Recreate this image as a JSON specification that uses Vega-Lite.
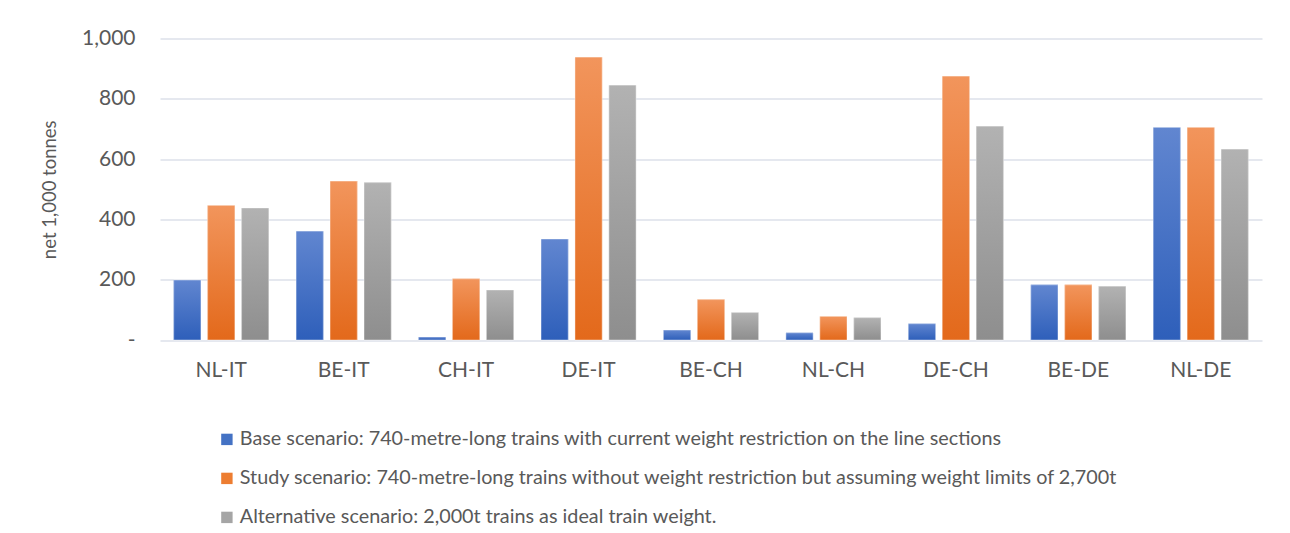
{
  "$schema": "https://vega.github.io/schema/vega-lite/v6.json",
  "width": 1102,
  "height": 301.5,
  "autosize": {"type": "none"},
  "padding": {"left": 160, "top": 38.5, "right": 28, "bottom": 193},
  "background": "white",
  "config": {
    "view": {"stroke": null},
    "font": "Lato",
    "axis": {"labelColor": "#595959", "titleColor": "#595959", "labelFont": "Lato", "titleFont": "Lato"},
    "legend": {"labelColor": "#595959", "labelFont": "Lato"}
  },
  "data": {
    "values": [
      {"route": "NL-IT", "scenario": "Base scenario: 740-metre-long trains with current weight restriction on the line sections", "value": 199},
      {"route": "NL-IT", "scenario": "Study scenario: 740-metre-long trains without weight restriction but assuming weight limits of 2,700t", "value": 446},
      {"route": "NL-IT", "scenario": "Alternative scenario: 2,000t trains as ideal train weight.", "value": 438},
      {"route": "BE-IT", "scenario": "Base scenario: 740-metre-long trains with current weight restriction on the line sections", "value": 361},
      {"route": "BE-IT", "scenario": "Study scenario: 740-metre-long trains without weight restriction but assuming weight limits of 2,700t", "value": 527},
      {"route": "BE-IT", "scenario": "Alternative scenario: 2,000t trains as ideal train weight.", "value": 522},
      {"route": "CH-IT", "scenario": "Base scenario: 740-metre-long trains with current weight restriction on the line sections", "value": 10},
      {"route": "CH-IT", "scenario": "Study scenario: 740-metre-long trains without weight restriction but assuming weight limits of 2,700t", "value": 203},
      {"route": "CH-IT", "scenario": "Alternative scenario: 2,000t trains as ideal train weight.", "value": 166},
      {"route": "DE-IT", "scenario": "Base scenario: 740-metre-long trains with current weight restriction on the line sections", "value": 335},
      {"route": "DE-IT", "scenario": "Study scenario: 740-metre-long trains without weight restriction but assuming weight limits of 2,700t", "value": 938},
      {"route": "DE-IT", "scenario": "Alternative scenario: 2,000t trains as ideal train weight.", "value": 845},
      {"route": "BE-CH", "scenario": "Base scenario: 740-metre-long trains with current weight restriction on the line sections", "value": 33},
      {"route": "BE-CH", "scenario": "Study scenario: 740-metre-long trains without weight restriction but assuming weight limits of 2,700t", "value": 134},
      {"route": "BE-CH", "scenario": "Alternative scenario: 2,000t trains as ideal train weight.", "value": 91},
      {"route": "NL-CH", "scenario": "Base scenario: 740-metre-long trains with current weight restriction on the line sections", "value": 24},
      {"route": "NL-CH", "scenario": "Study scenario: 740-metre-long trains without weight restriction but assuming weight limits of 2,700t", "value": 78},
      {"route": "NL-CH", "scenario": "Alternative scenario: 2,000t trains as ideal train weight.", "value": 74},
      {"route": "DE-CH", "scenario": "Base scenario: 740-metre-long trains with current weight restriction on the line sections", "value": 54},
      {"route": "DE-CH", "scenario": "Study scenario: 740-metre-long trains without weight restriction but assuming weight limits of 2,700t", "value": 875},
      {"route": "DE-CH", "scenario": "Alternative scenario: 2,000t trains as ideal train weight.", "value": 709},
      {"route": "BE-DE", "scenario": "Base scenario: 740-metre-long trains with current weight restriction on the line sections", "value": 183},
      {"route": "BE-DE", "scenario": "Study scenario: 740-metre-long trains without weight restriction but assuming weight limits of 2,700t", "value": 183},
      {"route": "BE-DE", "scenario": "Alternative scenario: 2,000t trains as ideal train weight.", "value": 178},
      {"route": "NL-DE", "scenario": "Base scenario: 740-metre-long trains with current weight restriction on the line sections", "value": 705},
      {"route": "NL-DE", "scenario": "Study scenario: 740-metre-long trains without weight restriction but assuming weight limits of 2,700t", "value": 705},
      {"route": "NL-DE", "scenario": "Alternative scenario: 2,000t trains as ideal train weight.", "value": 633}
    ]
  },
  "encoding": {
    "x": {
      "field": "route", "type": "nominal", "sort": null,
      "scale": {"paddingInner": 0.224, "paddingOuter": 0.112},
      "axis": {"title": null, "labelAngle": 0, "domain": false, "ticks": false, "labelPadding": 19, "labelFontSize": 21}
    },
    "xOffset": {
      "field": "scenario", "type": "nominal",
      "scale": {"domain": [
        "Base scenario: 740-metre-long trains with current weight restriction on the line sections",
        "Study scenario: 740-metre-long trains without weight restriction but assuming weight limits of 2,700t",
        "Alternative scenario: 2,000t trains as ideal train weight."
      ], "paddingInner": 0.2, "paddingOuter": 0}
    },
    "y": {
      "field": "value", "type": "quantitative",
      "scale": {"domain": [0, 1000], "nice": false},
      "axis": {
        "title": "net 1,000 tonnes", "titleFontSize": 18.5, "titleFontWeight": "normal", "titlePadding": 22,
        "values": [0, 200, 400, 600, 800, 1000],
        "labelExpr": "datum.value == 0 ? '-\u00a0\u00a0\u00a0' : format(datum.value, ',')",
        "labelFontSize": 21, "labelPadding": 25,
        "domain": false, "ticks": false,
        "grid": true, "gridColor": "#DDE1EA", "gridWidth": 1.5
      }
    }
  },
  "layer": [
    {
      "mark": {"type": "bar"},
      "encoding": {
        "color": {
          "field": "scenario", "type": "nominal",
          "scale": {
            "domain": [
              "Base scenario: 740-metre-long trains with current weight restriction on the line sections",
              "Study scenario: 740-metre-long trains without weight restriction but assuming weight limits of 2,700t",
              "Alternative scenario: 2,000t trains as ideal train weight."
            ],
            "range": ["#4472C4", "#ED7D31", "#A5A5A5"]
          },
          "legend": {
            "title": null, "orient": "none", "legendX": 57, "legendY": 391,
            "direction": "vertical", "symbolType": "square", "symbolSize": 130,
            "symbolStrokeWidth": 0, "labelFontSize": 19.8, "rowPadding": 18, "labelLimit": 1200, "labelOffset": 3
          }
        }
      }
    },
    {
      "transform": [{"filter": "indexof(datum.scenario, 'Base') == 0"}],
      "mark": {"type": "bar", "stroke": "#FFFFFF", "strokeOpacity": 0.5, "strokeWidth": 0.8,
        "fill": {"gradient": "linear", "x1": 0, "y1": 0, "x2": 0, "y2": 1,
          "stops": [{"offset": 0, "color": "#6186D0"}, {"offset": 1, "color": "#2E5FBA"}]}}
    },
    {
      "transform": [{"filter": "indexof(datum.scenario, 'Study') == 0"}],
      "mark": {"type": "bar", "stroke": "#FFFFFF", "strokeOpacity": 0.5, "strokeWidth": 0.8,
        "fill": {"gradient": "linear", "x1": 0, "y1": 0, "x2": 0, "y2": 1,
          "stops": [{"offset": 0, "color": "#F2955C"}, {"offset": 1, "color": "#E3691B"}]}}
    },
    {
      "transform": [{"filter": "indexof(datum.scenario, 'Alternative') == 0"}],
      "mark": {"type": "bar", "stroke": "#FFFFFF", "strokeOpacity": 0.5, "strokeWidth": 0.8,
        "fill": {"gradient": "linear", "x1": 0, "y1": 0, "x2": 0, "y2": 1,
          "stops": [{"offset": 0, "color": "#B2B2B2"}, {"offset": 1, "color": "#8E8E8E"}]}}
    }
  ]
}
